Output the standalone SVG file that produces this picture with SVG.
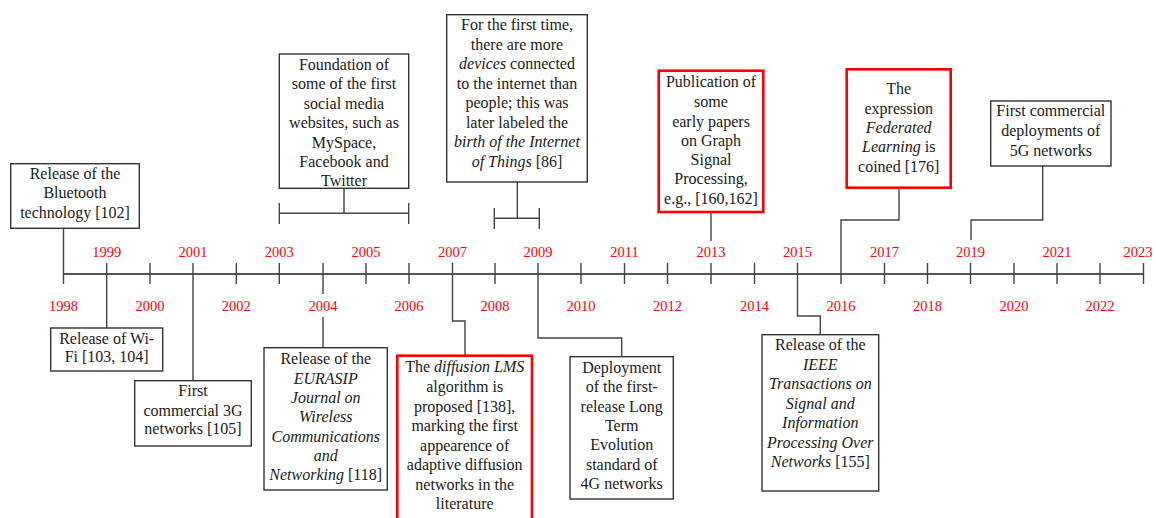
<svg xmlns="http://www.w3.org/2000/svg" width="1156" height="518" viewBox="0 0 1156 518">
<style>
.bg{fill:#fff}
.box{fill:#fff;stroke:#333;stroke-width:1.4}
.rbox{fill:#fff;stroke:#f00;stroke-width:2.6}
.t{font-family:'Liberation Serif','DejaVu Serif',serif;font-size:16px;fill:#1a1a1a;text-anchor:middle}
.i{font-style:italic}
.yr{font-family:'Liberation Serif','DejaVu Serif',serif;font-size:14.5px;fill:#f00;text-anchor:middle}
.ln{fill:none;stroke:#444;stroke-width:1.4}
.ax{fill:none;stroke:#555;stroke-width:2}
</style>
<rect class="bg" x="0" y="0" width="1156" height="518"/>

<g id="connectors">
  <line class="ax" x1="63.5" y1="274" x2="1144" y2="274"/>
  <path class="ln" d="M150,263V284 M236.3,263V284 M279.3,263V284 M366,263V284 M409,263V284 M495,263V284 M581,263V284 M624.5,263V284 M667.5,263V284 M711,263V284 M754.5,263V284 M884.5,263V284 M927.5,263V284 M970.5,263V284 M1014,263V284 M1057,263V284 M1100,263V284 M1143.5,263V284"/>
  <path class="ln" d="M63.5,228V284"/>
  <path class="ln" d="M106.7,263V328"/>
  <path class="ln" d="M193,263V381"/>
  <path class="ln" d="M323,263V294 M323,317V348"/>
  <path class="ln" d="M452.5,263V321H465V356"/>
  <path class="ln" d="M538,263V338H621.7V357"/>
  <path class="ln" d="M797.5,263V316H820.3V335"/>
  <path class="ln" d="M344,188V213.3 M279.3,213.3H408.7 M279.3,203V224 M408.7,203V224"/>
  <path class="ln" d="M517.3,182V218.3 M494.3,218.3H539.3 M494.3,208V229 M539.3,208V229"/>
  <path class="ln" d="M711,212V241"/>
  <path class="ln" d="M899,188V220H841V284"/>
  <path class="ln" d="M1042.7,166V220H971V240"/>
</g>

<g id="years">
  <text class="yr" x="63.5" y="311">1998</text>
  <text class="yr" x="106.7" y="257">1999</text>
  <text class="yr" x="150" y="311">2000</text>
  <text class="yr" x="193" y="257">2001</text>
  <text class="yr" x="236.3" y="311">2002</text>
  <text class="yr" x="279.3" y="257">2003</text>
  <text class="yr" x="323" y="311">2004</text>
  <text class="yr" x="366" y="257">2005</text>
  <text class="yr" x="409" y="311">2006</text>
  <text class="yr" x="452.5" y="257">2007</text>
  <text class="yr" x="495" y="311">2008</text>
  <text class="yr" x="538" y="257">2009</text>
  <text class="yr" x="581" y="311">2010</text>
  <text class="yr" x="624.5" y="257">2011</text>
  <text class="yr" x="667.5" y="311">2012</text>
  <text class="yr" x="711" y="257">2013</text>
  <text class="yr" x="754.5" y="311">2014</text>
  <text class="yr" x="797.5" y="257">2015</text>
  <text class="yr" x="841" y="311">2016</text>
  <text class="yr" x="884.5" y="257">2017</text>
  <text class="yr" x="927.5" y="311">2018</text>
  <text class="yr" x="970.5" y="257">2019</text>
  <text class="yr" x="1014" y="311">2020</text>
  <text class="yr" x="1057" y="257">2021</text>
  <text class="yr" x="1100" y="311">2022</text>
  <text class="yr" x="1138" y="257">2023</text>
</g>

<g id="bluetooth">
  <rect class="box" x="10.7" y="163.7" width="128.6" height="64.6"/>
  <text class="t" x="75" y="178.8">Release of the</text>
  <text class="t" x="75" y="198.2">Bluetooth</text>
  <text class="t" x="75" y="217.5">technology [102]</text>
</g>

<g id="wifi">
  <rect class="box" x="50.7" y="328" width="112" height="43"/>
  <text class="t" x="106.7" y="343.8">Release of Wi-</text>
  <text class="t" x="106.7" y="362.2">Fi [103, 104]</text>
</g>

<g id="g3">
  <rect class="box" x="134.7" y="380.7" width="116.6" height="65.3"/>
  <text class="t" x="193" y="395.5">First</text>
  <text class="t" x="193" y="415.5">commercial 3G</text>
  <text class="t" x="193" y="433.8">networks [105]</text>
</g>

<g id="eurasip">
  <rect class="box" x="264" y="347.7" width="123.3" height="142.3"/>
  <text class="t" x="325.7" y="363.8">Release of the</text>
  <text class="t i" x="325.7" y="383.5">EURASIP</text>
  <text class="t i" x="325.7" y="402.8">Journal on</text>
  <text class="t i" x="325.7" y="422.2">Wireless</text>
  <text class="t i" x="325.7" y="441.5">Communications</text>
  <text class="t i" x="325.7" y="460.8">and</text>
  <text class="t" x="325.7" y="480"><tspan class="i">Networking</tspan> [118]</text>
</g>

<g id="diffusion">
  <rect class="rbox" x="397.3" y="355.7" width="134.7" height="170"/>
  <text class="t" x="464.7" y="372.2">The <tspan class="i">diffusion LMS</tspan></text>
  <text class="t" x="464.7" y="392">algorithm is</text>
  <text class="t" x="464.7" y="411.5">proposed [138],</text>
  <text class="t" x="464.7" y="431">marking the first</text>
  <text class="t" x="464.7" y="450.5">appearence of</text>
  <text class="t" x="464.7" y="470">adaptive diffusion</text>
  <text class="t" x="464.7" y="489.5">networks in the</text>
  <text class="t" x="464.7" y="509">literature</text>
</g>

<g id="lte">
  <rect class="box" x="570" y="356.7" width="103.3" height="142.3"/>
  <text class="t" x="621.7" y="372.8">Deployment</text>
  <text class="t" x="621.7" y="392.2">of the first-</text>
  <text class="t" x="621.7" y="411.5">release Long</text>
  <text class="t" x="621.7" y="430.8">Term</text>
  <text class="t" x="621.7" y="450.2">Evolution</text>
  <text class="t" x="621.7" y="469.5">standard of</text>
  <text class="t" x="621.7" y="488.8">4G networks</text>
</g>

<g id="ieee">
  <rect class="box" x="762" y="334.7" width="116.7" height="156.3"/>
  <text class="t" x="820.3" y="350">Release of the</text>
  <text class="t i" x="820.3" y="369.5">IEEE</text>
  <text class="t i" x="820.3" y="389">Transactions on</text>
  <text class="t i" x="820.3" y="408.5">Signal and</text>
  <text class="t i" x="820.3" y="428">Information</text>
  <text class="t i" x="820.3" y="447.5">Processing Over</text>
  <text class="t" x="820.3" y="467"><tspan class="i">Networks</tspan> [155]</text>
</g>

<g id="social">
  <rect class="box" x="279.3" y="54" width="129.4" height="134.3"/>
  <text class="t" x="344" y="69.5">Foundation of</text>
  <text class="t" x="344" y="89.3">some of the first</text>
  <text class="t" x="344" y="108.8">social media</text>
  <text class="t" x="344" y="128.3">websites, such as</text>
  <text class="t" x="344" y="147.8">MySpace,</text>
  <text class="t" x="344" y="167.2">Facebook and</text>
  <text class="t" x="344" y="185.5">Twitter</text>
</g>

<g id="iot">
  <rect class="box" x="446.7" y="14.7" width="140.6" height="167.3"/>
  <text class="t" x="517" y="29.8">For the first time,</text>
  <text class="t" x="517" y="49.8">there are more</text>
  <text class="t" x="517" y="68.8"><tspan class="i">devices</tspan> connected</text>
  <text class="t" x="517" y="88.5">to the internet than</text>
  <text class="t" x="517" y="107.8">people; this was</text>
  <text class="t" x="517" y="127.8">later labeled the</text>
  <text class="t i" x="517" y="147.2">birth of the Internet</text>
  <text class="t" x="517" y="166.5"><tspan class="i">of Things</tspan> [86]</text>
</g>

<g id="gsp">
  <rect class="rbox" x="658.7" y="70.7" width="104.6" height="141.3"/>
  <text class="t" x="711" y="87.2">Publication of</text>
  <text class="t" x="711" y="106.5">some</text>
  <text class="t" x="711" y="126.5">early papers</text>
  <text class="t" x="711" y="145.5">on Graph</text>
  <text class="t" x="711" y="164.8">Signal</text>
  <text class="t" x="711" y="184.2">Processing,</text>
  <text class="t" x="711" y="203.5">e.g., [160,162]</text>
</g>

<g id="fl">
  <rect class="rbox" x="846.7" y="69.3" width="104" height="118.4"/>
  <text class="t" x="898.7" y="93.8">The</text>
  <text class="t" x="898.7" y="113.8">expression</text>
  <text class="t i" x="898.7" y="132.8">Federated</text>
  <text class="t" x="898.7" y="152.2"><tspan class="i">Learning</tspan> is</text>
  <text class="t" x="898.7" y="171.5">coined [176]</text>
</g>

<g id="fiveg">
  <rect class="box" x="990.7" y="101" width="120.3" height="65"/>
  <text class="t" x="1050.8" y="116.2">First commercial</text>
  <text class="t" x="1050.8" y="135.8">deployments of</text>
  <text class="t" x="1050.8" y="155.5">5G networks</text>
</g>
</svg>
